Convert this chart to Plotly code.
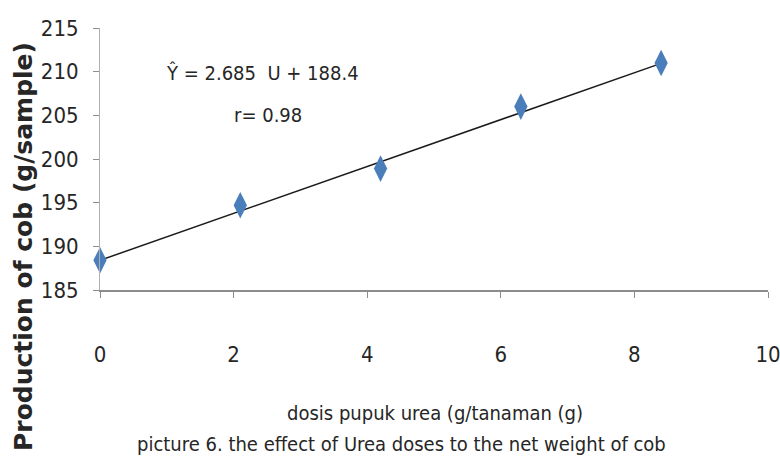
import plotly.graph_objects as go

dose = [0, 2.1, 4.2, 6.3, 8.4]
cob_weight = [188.4, 194.7, 198.9, 206.0, 211.0]
slope = 2.685
intercept = 188.4
x_ticks = [0, 2, 4, 6, 8, 10]
y_ticks = [185, 190, 195, 200, 205, 210, 215]

FONT = "DejaVu Sans Condensed, Liberation Sans Narrow, Arial Narrow, Liberation Sans, sans-serif"
BOLD_FONT = "DejaVu Sans, Verdana, sans-serif"

W, H = 780, 458
ML, MR, MT, MB = 100, 12, 28, 168

fit_x = [dose[0], dose[-1]]
fit_y = [intercept + slope * v for v in fit_x]

fig = go.Figure()
fig.add_trace(go.Scatter(x=fit_x, y=fit_y, mode="lines",
                         line=dict(color="#1a1a1a", width=1.5), showlegend=False))
fig.add_trace(go.Scatter(x=dose, y=cob_weight, mode="markers",
                         marker=dict(symbol="diamond-tall", size=19, color="#4a7ebb"),
                         cliponaxis=False, showlegend=False))

fig.update_layout(
    width=W, height=H,
    margin=dict(l=ML, r=MR, t=MT, b=MB, autoexpand=False),
    paper_bgcolor="white", plot_bgcolor="white",
    font=dict(family=FONT, color="#262626"),
    xaxis=dict(range=[0, 10], tickvals=x_ticks, showgrid=False, zeroline=False,
               showline=True, linecolor="#8c8c8c", linewidth=1.5,
               ticks="outside", ticklen=6, tickcolor="#8c8c8c",
               tickfont=dict(size=22, family=FONT, color="#262626"),
               ticklabelstandoff=38, ticklabeloverflow="allow", automargin=False),
    yaxis=dict(range=[185, 215], tickvals=y_ticks, showgrid=False, zeroline=False,
               showline=True, linecolor="#b0b0b0", linewidth=1,
               ticks="outside", ticklen=6, tickcolor="#8c8c8c",
               tickfont=dict(size=22, family=FONT, color="#262626"),
               ticklabelstandoff=10, automargin=False),
)

annots = [
    dict(text="Ŷ = 2.685  U + 188.4", x=262, y=73, size=20, fam=FONT, angle=0),
    dict(text="r= 0.98", x=268, y=115, size=20, fam=FONT, angle=0),
    dict(text="dosis pupuk urea (g/tanaman (g)", x=435, y=413, size=20, fam=FONT, angle=0),
    dict(text="picture 6. the effect of Urea doses to the net weight of cob", x=401, y=444, size=20, fam=FONT, angle=0),
    dict(text="<b>Production of cob (g/sample)</b>", x=23, y=247, size=25, fam=BOLD_FONT, angle=-90),
]
for a in annots:
    fig.add_annotation(x=(a["x"] - ML) / (W - ML - MR), y=(H - MB - a["y"]) / (H - MT - MB),
                       xref="paper", yref="paper", xanchor="center", yanchor="middle",
                       text=a["text"], textangle=a["angle"], showarrow=False,
                       font=dict(size=a["size"], family=a["fam"], color="#262626"))

fig.write_html("out.html", config={"displayModeBar": False},
               post_script="document.body.style.margin='0px';")
